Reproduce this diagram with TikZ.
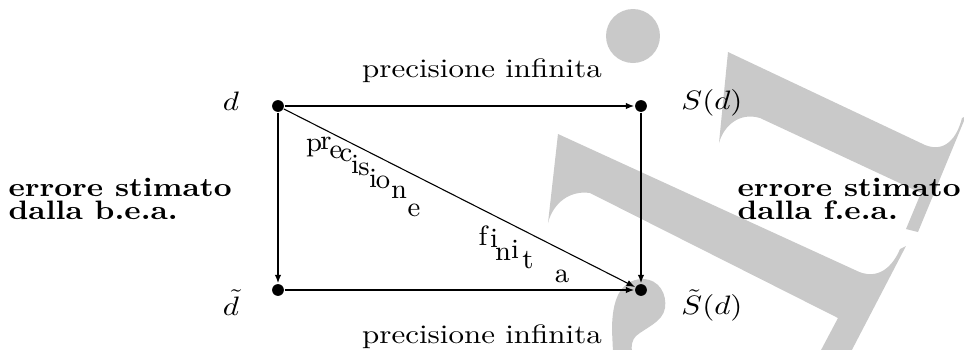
\documentclass[tikz,border=0pt]{standalone}
\usepackage{amsmath}
\usetikzlibrary{arrows.meta}

\definecolor{filigrana}{gray}{0.79}
\newcommand{\schiaccia}[1]{\scalebox{1}[0.86]{#1}}

\tikzset{
  punto/.style={circle, fill, inner sep=0pt, minimum size=3.8pt},
  freccia/.style={-{Latex[length=2.8pt,width=2.1pt]}, line width=0.6pt},
  etichetta/.style={anchor=base, inner sep=0pt},
  lettera/.style={anchor=base, inner sep=0pt, font=\fontsize{9}{10}\selectfont},
  errore/.style={font=\bfseries, anchor=base west, inner sep=0pt}
}

\begin{document}
\begin{tikzpicture}[x=0.3226pt, y=-0.3226pt]
  \useasboundingbox (0,0) rectangle (964,349);

  % filigrana
  \begin{scope}
    \clip (0,0) rectangle (964,349);
    \fill[filigrana] (633,36) circle[radius=27];
    \fill[filigrana] (728,52) -- (925,145) .. controls (945,153) and (957,138) .. (962,118)
      -- (966,116) -- (918,232) -- (906,229) -- (921,193) -- (760,118)
      .. controls (740,112) and (724,125) .. (719,143) -- cycle;
    \fill[filigrana] (558,134) -- (855,270) .. controls (878,282) and (893,266) .. (900,249)
      -- (906,246) -- (842,369) -- (811,369) -- (838,318) -- (590,193)
      .. controls (570,190) and (553,203) .. (548,223) -- cycle;
    \fill[filigrana] (613,352) -- (612,330) .. controls (612,300) and (620,280) .. (642,279)
      .. controls (660,279) and (667,295) .. (665,308)
      .. controls (663,322) and (645,328) .. (636,336)
      .. controls (632,340) and (631,346) .. (632,352) -- cycle;
  \end{scope}

  % punti
  \node[punto] (d)  at (278,106) {};
  \node[punto] (Sd) at (641,106) {};
  \node[punto] (dt) at (278,290) {};
  \node[punto] (St) at (641,290) {};

  \draw[freccia] (d) -- (Sd);
  \draw[freccia] (d) -- (dt);
  \draw[freccia] (Sd) -- (St);
  \draw[freccia] (dt) -- (St);
  \draw[freccia, line width=0.35pt] (d) -- (St);

  \node[etichetta] (ld)  at (231,110) {\schiaccia{$d$}};
  \node[etichetta] (lSd) at (712,109) {\schiaccia{$S(d)$}};
  \node[etichetta] (ldt) at (231,315) {\schiaccia{$\tilde{d}$}};
  \node[etichetta] (lSt) at (712,314) {\schiaccia{$\tilde{S}(d)$}};

  \node[etichetta] (inf1) at (482,77)  {\schiaccia{precisione infinita}};
  \node[etichetta] (inf2) at (482,343) {\schiaccia{precisione infinita}};

  % precisione finita, lettera per lettera
  \foreach \c/\x/\y [count=\i] in {p/314/151, r/326/149, e/336/158, c/346/161,
      i/355/173, s/364/175, i/373/187, o/383/188, n/399/198, e/414/216,
      f/483/245, i/494/247, n/503/260, i/515/258, t/528/268, a/562/282}
    \node[lettera] (fin\i) at (\x,\y) {\c};

  \node[errore] (bea1) at (8,196)   {\schiaccia{errore stimato}};
  \node[errore] (bea2) at (8,219)   {\schiaccia{dalla b.e.a.}};
  \node[errore] (fea1) at (737,196) {\schiaccia{errore stimato}};
  \node[errore] (fea2) at (737,219) {\schiaccia{dalla f.e.a.}};
\end{tikzpicture}
\end{document}
